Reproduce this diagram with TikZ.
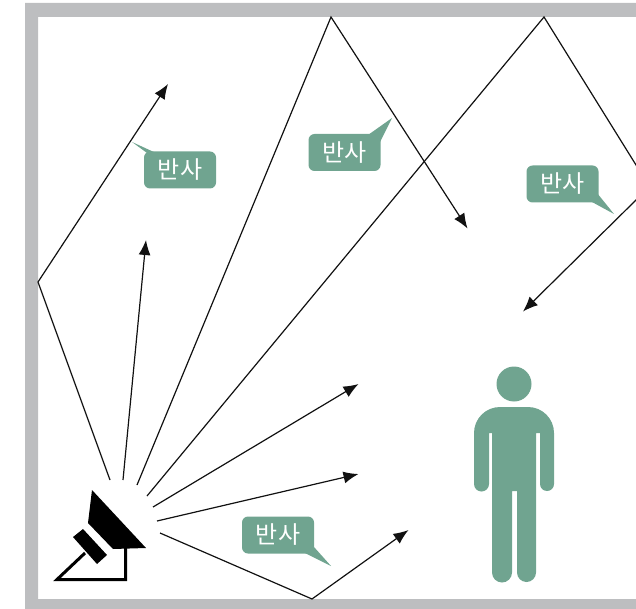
\documentclass[tikz,border=0pt]{standalone}
\usepackage{fontspec}
\newfontfamily\krfont{Noto Sans CJK KR}
\usetikzlibrary{arrows.meta}
\definecolor{sage}{HTML}{70A490}
\definecolor{framegray}{HTML}{BDBEC0}
\definecolor{rayline}{HTML}{111111}
\tikzset{
  ray/.style={draw=rayline,line width=1.2pt,line join=miter},
  rayarrow/.style={ray,-{Latex[length=15pt,width=12pt]}},
  bubble/.style={fill=sage,rounded corners=6pt,text=white,minimum width=72pt,minimum height=37pt,inner sep=0pt,font=\krfont\fontsize{24}{26}\selectfont},
  tail/.style={fill=sage,draw=none}
}
\begin{document}
\begin{tikzpicture}[x=1pt,y=-1pt]
\useasboundingbox (0,0) rectangle (636,609);
\clip (0,0) rectangle (636,609);
% frame
\fill[framegray,even odd rule] (25,3) rectangle (700,609) (38,17) rectangle (700,599);
% ray points
\coordinate (r1s) at (110,480); \coordinate (r1b) at (38,282); \coordinate (r1e) at (168,84);
\coordinate (r2s) at (123,480); \coordinate (r2e) at (146,240);
\coordinate (r3s) at (137,485); \coordinate (r3b) at (331,17); \coordinate (r3e) at (467.5,228.5);
\coordinate (r4s) at (147,496); \coordinate (r4b) at (544,17); \coordinate (r4c) at (649.5,186.7); \coordinate (r4e) at (523,311.5);
\coordinate (r5s) at (153,507); \coordinate (r5e) at (358.5,384);
\coordinate (r6s) at (157,521); \coordinate (r6e) at (358.5,474);
\coordinate (r7s) at (160,533); \coordinate (r7b) at (312,599); \coordinate (r7e) at (408.5,530);
\draw[rayarrow] (r1s) -- (r1b) -- (r1e);
\draw[rayarrow] (r2s) -- (r2e);
\draw[rayarrow] (r3s) -- (r3b) -- (r3e);
\draw[rayarrow] (r4s) -- (r4b) -- (r4c) -- (r4e);
\draw[rayarrow] (r5s) -- (r5e);
\draw[rayarrow] (r6s) -- (r6e);
\draw[rayarrow] (r7s) -- (r7b) -- (r7e);
% callouts
\fill[tail] (132,142) -- (147,153) -- (156,153) -- cycle;
\node[bubble] (b1) at (180,170) {반사};
\fill[tail] (392,118) -- (368,135) -- (378,146) -- cycle;
\node[bubble] (b2) at (344.5,152.5) {반사};
\fill[tail] (614,214) -- (592,202) -- (597,193) -- cycle;
\node[bubble] (b3) at (562.5,184) {반사};
\fill[tail] (331,566) -- (305,553) -- (314,547) -- cycle;
\node[bubble] (b4) at (278,535) {반사};
% person
\fill[sage] (514,384) circle (17.5);
\fill[sage] (474,433) arc (180:270:26) -- (528,407) arc (270:360:26)
  -- (554,484) arc (0:180:7) -- (540,433) -- (536,433)
  -- (536,572.5) arc (0:180:9.5) -- (517,491) -- (512,491)
  -- (512,572.5) arc (0:180:10) -- (492,433) -- (489,433)
  -- (489,484) arc (0:180:7.5) -- cycle;
% speaker
\fill[black] (92,490) -- (88,523) -- (113,549) -- (146,548) -- cycle;
\fill[black] (73,537) -- (83,529) -- (107,555) -- (97,564) -- cycle;
\draw[black,line width=3pt,line join=miter] (85,553) -- (57,579.5) -- (125.5,579.5) -- (125.5,548);
\end{tikzpicture}
\end{document}
